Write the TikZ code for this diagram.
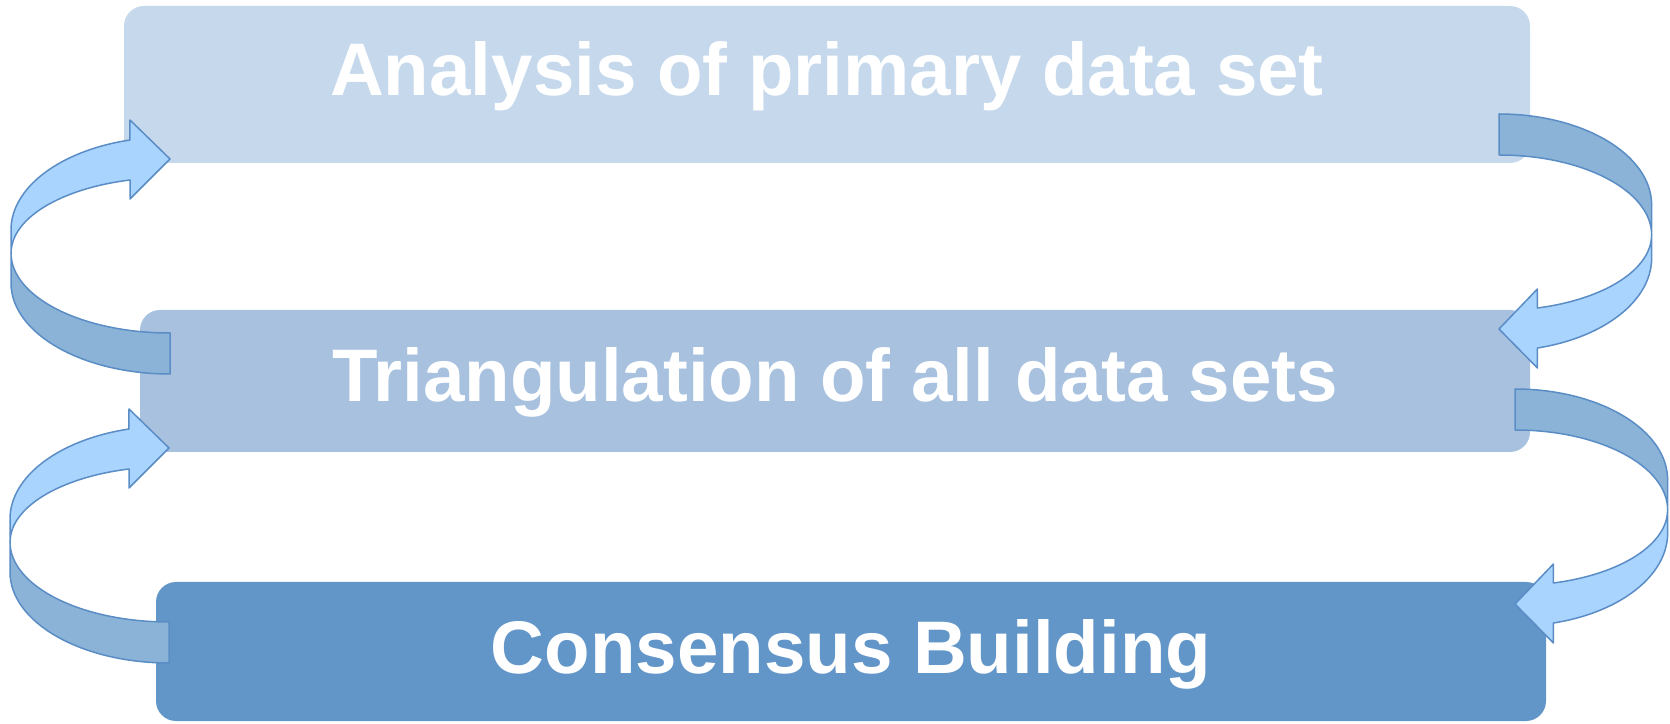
\documentclass[tikz,border=0pt]{standalone}
\usepackage{fontspec}
\setmainfont{Liberation Sans}
\definecolor{box1}{HTML}{C5D8EC}
\definecolor{box2}{HTML}{A7C1DF}
\definecolor{box3}{HTML}{6296C8}
\definecolor{front}{HTML}{A9D4FE}
\definecolor{back}{HTML}{8BB3D7}
\definecolor{rim}{HTML}{5A8DC5}

\begin{document}
\begin{tikzpicture}[x=1pt,y=1pt,
    stage/.style={rectangle,rounded corners=20,inner sep=0pt,outer sep=0pt,
      minimum width=1390,minimum height=142},
    caption/.style={anchor=base,text=white,font=\fontsize{74.5}{80}\selectfont\bfseries},
    band/.style={draw=rim,line width=1.5pt,line join=round},
    uturn/.pic={
      \draw[band,fill=back] (-159,-30) arc[start angle=180,end angle=270,x radius=159,y radius=91]
        -- (0,-80) arc[start angle=270,end angle=180,x radius=159,y radius=80] -- cycle;
      \draw[band,fill=front] (-159,0) -- (-159,23)
        arc[start angle=180,end angle=104.6,x radius=159,y radius=93]
        -- (-40,133) -- (0,94) -- (-40,54) -- (-40,73)
        arc[start angle=104.6,end angle=180,x radius=159,y radius=75.5] -- cycle;
    }]

    \useasboundingbox (0,0) rectangle (1670,723);

    \node[stage,fill=box1,minimum width=1406,minimum height=157] (1) at (827,638.5) {};
    \node[stage,fill=box2]                                       (2) at (835,342)   {};
    \node[stage,fill=box3,minimum height=139]                    (3) at (851,71.5)  {};

    \node[caption] (t1) at (827,627)   {Analysis of primary data set};
    \node[caption] (t2) at (835,321.5) {Triangulation of all data sets};
    \node[caption] (t3) at (851,50)    {Consensus Building};

    \pic at (170,470) {uturn};
    \pic at (169,181) {uturn};
    \pic[rotate=180,xscale=0.96] at (1499,488) {uturn};
    \pic[rotate=180,xscale=0.96] at (1515,213) {uturn};
\end{tikzpicture}
\end{document}
